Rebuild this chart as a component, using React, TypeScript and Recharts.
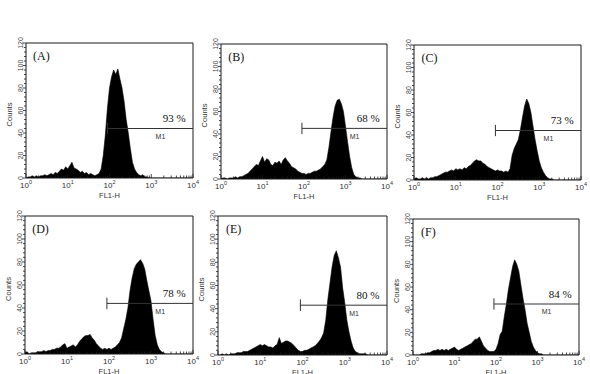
import { ComposedChart, Area, XAxis, YAxis, ReferenceLine, ReferenceDot } from "recharts";

// log10 channel positions (0 = 10^0 ... 4 = 10^4)
const bins = [
  0, 0.05, 0.1, 0.15, 0.2, 0.25, 0.3, 0.35, 0.4, 0.45,
  0.5, 0.55, 0.6, 0.65, 0.7, 0.75, 0.8, 0.85, 0.9, 0.95,
  1, 1.05, 1.1, 1.15, 1.2, 1.25, 1.3, 1.35, 1.4, 1.45,
  1.5, 1.55, 1.6, 1.65, 1.7, 1.75, 1.8, 1.85, 1.9, 1.95,
  2, 2.05, 2.1, 2.15, 2.2, 2.25, 2.3, 2.35, 2.4, 2.45,
  2.5, 2.55, 2.6, 2.65, 2.7, 2.75, 2.8, 2.85, 2.9, 2.95,
  3, 3.05, 3.1, 3.15, 3.2, 3.25, 3.3, 3.35, 3.4, 3.45,
  3.5, 3.55, 3.6, 3.65, 3.7, 3.75, 3.8, 3.85, 3.9, 3.95,
  4,
];

const countsA = [
  0, 1, 1, 2, 1, 2, 1, 2, 2, 3,
  2, 3, 4, 3, 5, 4, 6, 8, 7, 10,
  8, 11, 14, 9, 8, 7, 5, 6, 4, 5,
  3, 4, 3, 2, 3, 4, 8, 20, 38, 62,
  80, 90, 96, 92, 97, 88, 80, 68, 52, 40,
  26, 14, 8, 5, 3, 2, 3, 1, 1, 0,
  0, 0, 0, 0, 0, 0, 0, 0, 0, 0,
  0, 0, 0, 0, 0, 0, 0, 0, 0, 0,
  0,
];
const countsB = [
  0, 1, 1, 0, 1, 1, 1, 2, 1, 2,
  2, 3, 4, 5, 7, 9, 11, 13, 12, 16,
  20, 15, 18, 17, 13, 12, 15, 14, 16, 13,
  17, 19, 16, 14, 11, 10, 9, 7, 6, 5,
  5, 4, 5, 5, 6, 7, 7, 8, 9, 11,
  13, 17, 28, 42, 55, 65, 70, 71, 67, 60,
  47, 33, 20, 10, 4, 2, 1, 1, 0, 0,
  0, 0, 0, 0, 0, 0, 0, 0, 0, 0,
  0,
];
const countsC = [
  1, 2, 1, 1, 2, 1, 2, 1, 2, 2,
  3, 3, 4, 5, 6, 7, 7, 8, 9, 8,
  10, 9, 10, 9, 11, 10, 12, 13, 15, 17,
  18, 17, 17, 15, 14, 12, 11, 10, 9, 8,
  9, 8, 8, 7, 8, 7, 10, 22, 28, 32,
  36, 45, 56, 66, 72, 68, 60, 48, 36, 26,
  17, 11, 7, 4, 2, 1, 1, 0, 0, 0,
  0, 0, 0, 0, 0, 0, 0, 0, 0, 0,
  0,
];
const countsD = [
  1, 2, 0, 1, 1, 1, 2, 2, 2, 3,
  2, 3, 3, 4, 4, 5, 5, 6, 8, 9,
  5, 6, 7, 8, 6, 8, 11, 13, 15, 16,
  16, 17, 14, 12, 9, 7, 5, 4, 5, 4,
  5, 4, 5, 6, 8, 10, 14, 22, 30, 40,
  55, 66, 74, 78, 80, 82, 79, 74, 64, 55,
  46, 30, 16, 8, 4, 2, 1, 0, 0, 0,
  0, 0, 0, 0, 0, 0, 0, 0, 0, 0,
  0,
];
const countsE = [
  0, 0, 1, 0, 1, 0, 1, 1, 1, 2,
  2, 2, 3, 3, 3, 4, 5, 6, 7, 8,
  9, 8, 9, 8, 7, 7, 6, 8, 9, 15,
  10, 11, 12, 12, 11, 10, 8, 6, 4, 3,
  3, 4, 4, 5, 6, 7, 8, 10, 12, 15,
  19, 30, 48, 62, 76, 86, 90, 84, 76, 58,
  45, 30, 20, 12, 6, 3, 2, 1, 1, 1,
  1, 0, 0, 0, 0, 0, 0, 0, 0, 0,
  0,
];
const countsF = [
  0, 0, 0, 0, 1, 1, 1, 2, 2, 3,
  4, 4, 5, 4, 5, 4, 5, 4, 5, 6,
  7, 5, 4, 5, 6, 7, 8, 9, 10, 12,
  14, 14, 16, 12, 8, 6, 4, 3, 3, 3,
  5, 10, 18, 21, 34, 45, 58, 68, 78, 84,
  80, 74, 62, 50, 40, 28, 20, 12, 7, 4,
  2, 1, 1, 0, 0, 0, 0, 0, 0, 0,
  0, 0, 0, 0, 0, 0, 0, 0, 0, 0,
  0,
];

const panelNames = ["(A)", "(B)", "(C)", "(D)", "(E)", "(F)"];
const gatePercents = ["93 %", "68 %", "73 %", "78 %", "80 %", "84 %"];
const gateLevels = [44, 45, 44, 44, 43, 45];
const gateStart = 1.95;
const decadeTicks = [0, 1, 2, 3, 4];
const minorMultipliers = [2, 3, 4, 5, 6, 7, 8, 9];
const countTicks = [
  0, 4, 8, 12, 16, 20, 24, 28, 32, 36, 40, 44, 48, 52, 56, 60,
  64, 68, 72, 76, 80, 84, 88, 92, 96, 100, 104, 108, 112, 116, 120,
];
const allCounts = [countsA, countsB, countsC, countsD, countsE, countsF];

// plot-box placement of each panel on the page
const boxes = [
  { left: 26, top: 43, w: 167, h: 135 },
  { left: 221, top: 44, w: 166, h: 135 },
  { left: 414, top: 45, w: 167, h: 135 },
  { left: 25, top: 216, w: 168, h: 138 },
  { left: 218, top: 216, w: 169, h: 139 },
  { left: 413, top: 219, w: 166, h: 136 },
];

const SANS = "'Liberation Sans', Arial, sans-serif";
const SERIF = "'Liberation Serif', 'Times New Roman', serif";
const INK = "#1a1a1a";
const Y_AXIS_W = 24;
const X_AXIS_H = 22;
const M_TOP = 8;
const M_RIGHT = 9;

const xTicks = [
  ...decadeTicks,
  ...decadeTicks.slice(0, 4).flatMap((d) => minorMultipliers.map((m) => d + Math.log10(m))),
];

const XTick = (props: any) => {
  const { x, y, payload } = props;
  const v = payload.value as number;
  const major = Math.abs(v - Math.round(v)) < 1e-6;
  return (
    <g>
      <line x1={x} x2={x} y1={y} y2={y - (major ? 4 : 2.5)} stroke={INK} strokeWidth={0.8} />
      {major && (
        <text x={x} y={y + 10} textAnchor="middle" fontSize={8} fontFamily={SANS} fill="#333">
          10
          <tspan dy={-4} fontSize={5.5}>
            {v}
          </tspan>
        </text>
      )}
    </g>
  );
};

const YTick = (props: any) => {
  const { x, y, payload } = props;
  const v = payload.value as number;
  const major = v % 20 === 0;
  return (
    <g>
      <line x1={x - (major ? 3 : 2)} x2={x} y1={y} y2={y} stroke={INK} strokeWidth={0.8} />
      {major && (
        <text
          transform={`translate(${x - 3.5},${y}) rotate(-90)`}
          textAnchor="middle"
          fontSize={7}
          fontFamily={SANS}
          fill="#444"
        >
          {v}
        </text>
      )}
    </g>
  );
};

const CountsLabel = (props: any) => {
  const vb = props.viewBox || { x: 0, y: 0, width: 0, height: 0 };
  const cx = vb.x + 10;
  const cy = vb.y + vb.height / 2 + 4;
  return (
    <text
      transform={`translate(${cx},${cy}) rotate(-90)`}
      textAnchor="middle"
      fontSize={7.5}
      fontFamily={SANS}
      fill="#333"
    >
      Counts
    </text>
  );
};

interface PanelProps {
  index: number;
}

const Panel = ({ index }: PanelProps) => {
  const box = boxes[index];
  const counts = allCounts[index];
  const level = gateLevels[index];
  const data = bins.map((x, i) => ({ x, count: counts[i] }));

  return (
    <div style={{ position: "absolute", left: box.left - Y_AXIS_W, top: box.top - M_TOP }}>
      <ComposedChart
        width={box.w + Y_AXIS_W + M_RIGHT}
        height={box.h + X_AXIS_H + M_TOP}
        data={data}
        margin={{ top: M_TOP, right: M_RIGHT, bottom: 0, left: 0 }}
      >
        <XAxis
          dataKey="x"
          type="number"
          domain={[0, 4]}
          ticks={xTicks}
          interval={0}
          tick={<XTick />}
          tickLine={false}
          tickSize={0}
          tickMargin={0}
          height={X_AXIS_H}
          axisLine={{ stroke: INK, strokeWidth: 1 }}
          allowDataOverflow
          label={{ value: "FL1-H", position: "insideBottom", offset: 2.5, fontSize: 7.5, fill: "#333", fontFamily: SANS }}
        />
        <YAxis
          type="number"
          domain={[0, 120]}
          ticks={countTicks}
          interval={0}
          tick={<YTick />}
          tickLine={false}
          tickSize={0}
          tickMargin={0}
          width={Y_AXIS_W}
          axisLine={{ stroke: INK, strokeWidth: 1 }}
          allowDataOverflow
          label={<CountsLabel />}
        />
        <Area
          dataKey="count"
          type="linear"
          stroke="#000"
          strokeWidth={0.6}
          fill="#000"
          fillOpacity={1}
          dot={false}
          activeDot={false}
          isAnimationActive={false}
        />
        <ReferenceLine y={120} stroke={INK} strokeWidth={1} />
        <ReferenceLine x={4} stroke={INK} strokeWidth={1} />
        <ReferenceLine
          segment={[
            { x: gateStart, y: level },
            { x: 4, y: level },
          ]}
          stroke="#333"
          strokeWidth={1}
        />
        <ReferenceLine
          segment={[
            { x: gateStart, y: level - 5 },
            { x: gateStart, y: level + 5 },
          ]}
          stroke="#333"
          strokeWidth={1}
        />
        <ReferenceDot
          x={0.37}
          y={109}
          r={0}
          label={{ value: panelNames[index], position: "center", fontSize: 12, fill: "#111", fontFamily: SERIF }}
        />
        <ReferenceDot
          x={3.55}
          y={level + 9}
          r={0}
          label={{ value: gatePercents[index], position: "center", fontSize: 11, fill: "#111", fontFamily: SERIF }}
        />
        <ReferenceDot
          x={3.22}
          y={level - 7}
          r={0}
          label={{ value: "M1", position: "center", fontSize: 7, fill: "#333", fontFamily: SANS }}
        />
      </ComposedChart>
    </div>
  );
};

export default function App() {
  return (
    <div style={{ position: "absolute", left: 0, top: 0, width: 590, height: 374, background: "#fff", overflow: "hidden" }}>
      {boxes.map((_, i) => (
        <Panel key={i} index={i} />
      ))}
    </div>
  );
}
